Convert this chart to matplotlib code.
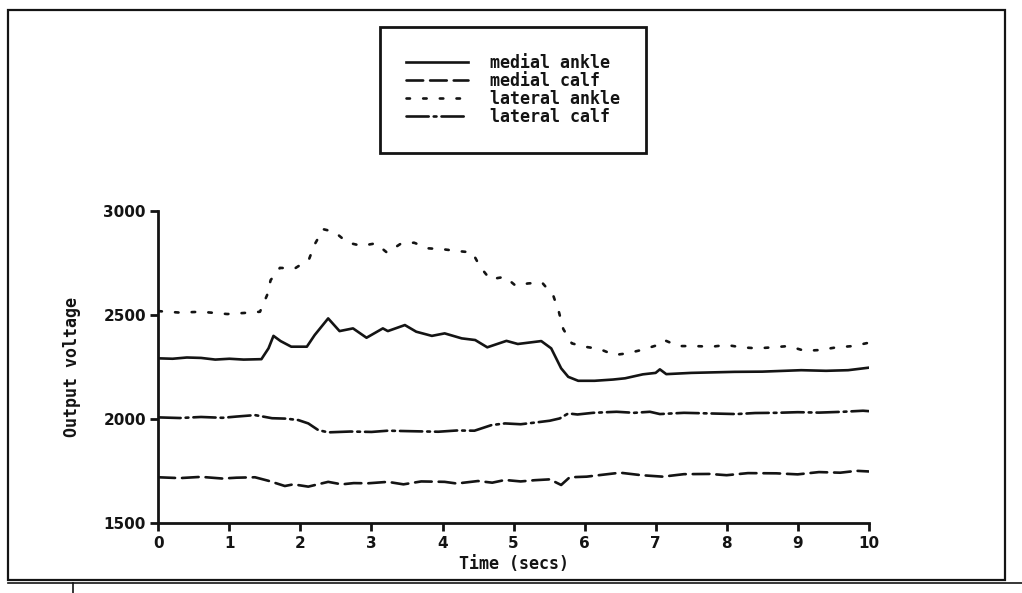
import matplotlib
matplotlib.use('Agg')
import matplotlib.pyplot as plt
from matplotlib.lines import Line2D
from matplotlib.patches import Rectangle

plt.rcParams['lines.scale_dashes'] = False

# medial ankle (solid)
t_med_ankle = [0, 0.2, 0.4, 0.6, 0.8, 1.0, 1.2, 1.45, 1.55, 1.62, 1.72, 1.87, 2.09, 2.2, 2.39,
               2.55, 2.74, 2.93, 3.16, 3.23, 3.47, 3.63, 3.85, 4.03, 4.27, 4.46, 4.63, 4.9,
               5.06, 5.39, 5.53, 5.67, 5.77, 5.91, 6.14, 6.4, 6.57, 6.82, 7.0, 7.06, 7.15,
               7.5, 8.11, 8.5, 9.05, 9.4, 9.71, 10.0]
v_med_ankle = [2292, 2290, 2296, 2294, 2286, 2290, 2286, 2288, 2340, 2400, 2375, 2348, 2348,
               2404, 2484, 2423, 2436, 2391, 2436, 2423, 2452, 2420, 2400, 2412, 2388, 2380,
               2345, 2376, 2361, 2375, 2340, 2244, 2203, 2184, 2184, 2190, 2196, 2215, 2222,
               2239, 2216, 2222, 2227, 2228, 2235, 2232, 2235, 2247]

# medial calf (dashed)
t_med_calf = [0, 0.3, 0.6, 0.9, 1.1, 1.36, 1.55, 1.78, 1.9, 2.11, 2.39, 2.58, 2.75, 2.95, 3.23,
              3.45, 3.7, 4.03, 4.2, 4.5, 4.7, 4.88, 5.1, 5.3, 5.51, 5.67, 5.79, 6.03, 6.2, 6.5,
              6.8, 7.1, 7.4, 7.76, 8.0, 8.3, 8.7, 9.0, 9.3, 9.6, 9.83, 10.0]
v_med_calf = [1720, 1716, 1722, 1714, 1718, 1720, 1703, 1678, 1686, 1675, 1698, 1686, 1692,
              1691, 1698, 1686, 1700, 1698, 1690, 1702, 1694, 1707, 1700, 1706, 1710, 1683,
              1720, 1723, 1730, 1742, 1730, 1723, 1735, 1736, 1730, 1740, 1739, 1734, 1745,
              1742, 1751, 1748]

# lateral ankle (dotted)
t_lat_ankle = [0, 0.3, 0.6, 0.97, 1.2, 1.43, 1.53, 1.58, 1.71, 1.92, 2.12, 2.2, 2.32, 2.48,
               2.66, 2.86, 3.06, 3.22, 3.42, 3.6, 3.8, 4.02, 4.21, 4.42, 4.53, 4.67, 4.88,
               5.03, 5.2, 5.4, 5.56, 5.64, 5.7, 5.82, 6.0, 6.21, 6.42, 6.6, 6.8, 7.03, 7.12,
               7.32, 7.55, 7.79, 8.0, 8.21, 8.43, 8.65, 8.87, 9.1, 9.31, 9.55, 9.78, 10.0]
v_lat_ankle = [2519, 2512, 2516, 2505, 2510, 2516, 2596, 2668, 2727, 2724, 2768, 2840, 2913,
               2900, 2849, 2833, 2845, 2800, 2845, 2848, 2821, 2816, 2808, 2801, 2732, 2672,
               2684, 2641, 2652, 2657, 2593, 2513, 2433, 2364, 2348, 2337, 2308, 2316, 2332,
               2356, 2380, 2351, 2351, 2348, 2356, 2345, 2340, 2345, 2351, 2328, 2332, 2345,
               2351, 2367]

# lateral calf (dash-dot)
t_lat_calf = [0, 0.3, 0.6, 0.9, 1.1, 1.36, 1.6, 1.8, 1.97, 2.11, 2.25, 2.39, 2.7, 3.0, 3.23,
              3.5, 3.94, 4.2, 4.45, 4.69, 4.88, 5.1, 5.3, 5.51, 5.65, 5.77, 5.9, 6.12, 6.45,
              6.7, 6.92, 7.06, 7.4, 7.76, 8.14, 8.4, 8.7, 9.0, 9.3, 9.64, 9.92, 10.0]
v_lat_calf = [2008, 2005, 2010, 2006, 2012, 2019, 2004, 2002, 1995, 1979, 1947, 1936, 1940,
              1938, 1944, 1942, 1939, 1945, 1944, 1971, 1979, 1975, 1983, 1992, 2003, 2027,
              2022, 2030, 2035, 2030, 2035, 2024, 2030, 2027, 2024, 2029, 2030, 2033, 2031,
              2035, 2040, 2038]

labels = ['medial ankle', 'medial calf', 'lateral ankle', 'lateral calf']
x_ticks = [0, 1, 2, 3, 4, 5, 6, 7, 8, 9, 10]
y_ticks = [1500, 2000, 2500, 3000]

ink = '#141414'
styles = ['-', (0, (12, 5)), (0, (2.5, 9.5)), (0, (16, 3.6, 2, 3.6))]
mono = {'family': 'DejaVu Sans Mono', 'weight': 'bold'}

fig = plt.figure(figsize=(10.22, 5.93), dpi=100)
ax = fig.add_axes([0.155, 0.118, 0.695, 0.526])

series = [(t_med_ankle, v_med_ankle), (t_med_calf, v_med_calf),
          (t_lat_ankle, v_lat_ankle), (t_lat_calf, v_lat_calf)]
handles = []
for (t, v), ls, lab in zip(series, styles, labels):
    h, = ax.plot(t, v, color=ink, lw=1.9, linestyle=ls, label=lab,
                 dash_capstyle='round', solid_joinstyle='round')
    handles.append(h)

ax.set_xlim(0, 10)
ax.set_ylim(1500, 3000)
ax.set_xticks(x_ticks)
ax.set_yticks(y_ticks)
for s in ['top', 'right']:
    ax.spines[s].set_visible(False)
for s in ['left', 'bottom']:
    ax.spines[s].set_linewidth(2)
    ax.spines[s].set_color(ink)
ax.tick_params(direction='out', length=6, width=2, color=ink, labelcolor=ink, pad=3)
for lbl in ax.get_xticklabels() + ax.get_yticklabels():
    lbl.set_fontsize(11)
    lbl.set_fontweight('bold')
ax.set_xlabel('Time (secs)', fontsize=12, color=ink, labelpad=3, **mono)
ax.set_ylabel('Output voltage', fontsize=12, color=ink, labelpad=16, **mono)

leg = fig.legend(handles=handles, loc='upper center', bbox_to_anchor=(0.502, 0.968),
                 prop={'family': 'DejaVu Sans Mono', 'weight': 'bold', 'size': 12},
                 handlelength=3.7, handletextpad=1.3, labelspacing=0.0,
                 borderpad=1.6, fancybox=False, framealpha=1)
leg.get_frame().set_edgecolor(ink)
leg.get_frame().set_linewidth(2)
for txt in leg.get_texts():
    txt.set_color(ink)

# page frame around the figure
fig.add_artist(Rectangle((8 / 1022, 1 - 580 / 593), 997 / 1022, 570 / 593,
                         transform=fig.transFigure, fill=False, lw=1.6, ec=ink))
fig.add_artist(Line2D([8 / 1022, 1], [1 - 583 / 593] * 2, transform=fig.transFigure,
                      lw=1.2, color=ink))
fig.add_artist(Line2D([73 / 1022] * 2, [1 - 583 / 593, 0], transform=fig.transFigure,
                      lw=1.2, color=ink))

fig.savefig('out.png', dpi=100, facecolor='white')
